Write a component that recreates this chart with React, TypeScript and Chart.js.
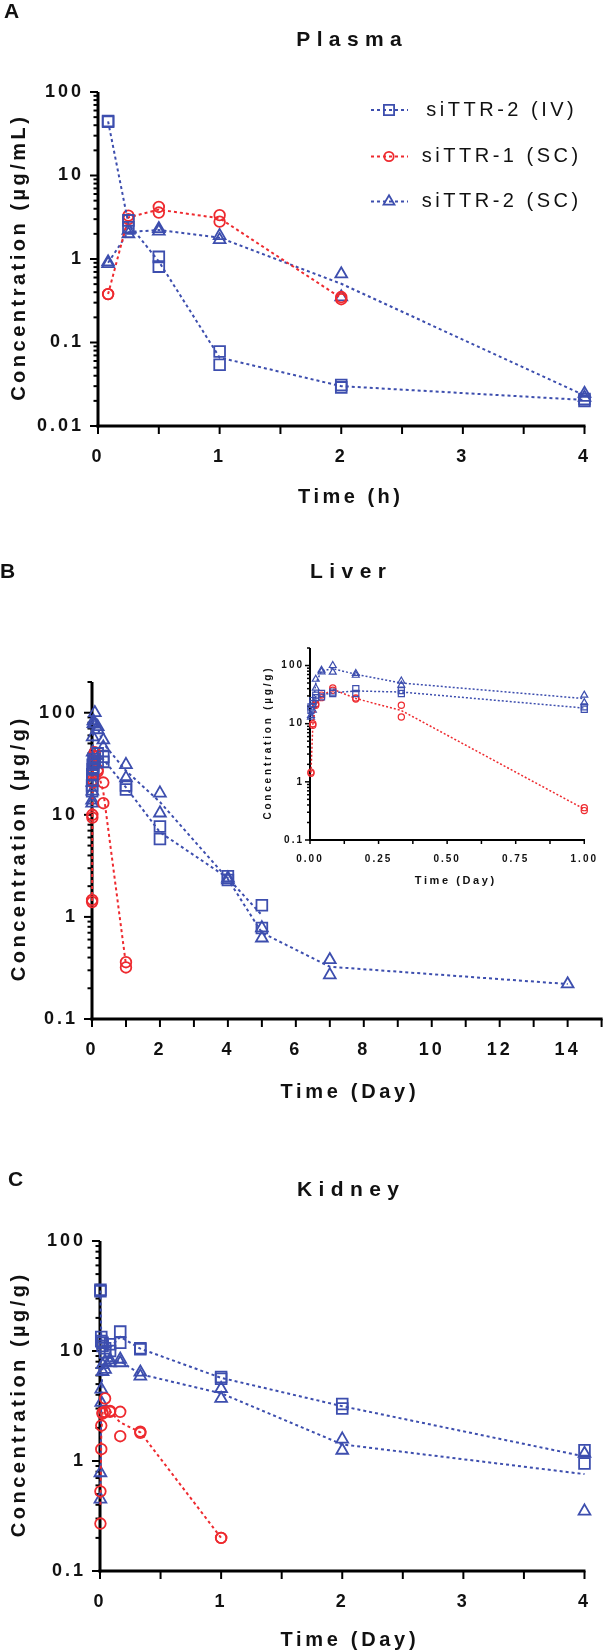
import React, { useEffect, useRef } from 'react';
import { Chart, registerables } from 'chart.js';

Chart.register(...registerables);

// ---------------- data ----------------
const seriesNames = ['siTTR-2 (IV)', 'siTTR-1 (SC)', 'siTTR-2 (SC)'];

// Panel A – Plasma (time in hours), two replicates per time point
const plasmaTimes = [0.083, 0.25, 0.5, 1, 2, 4];
const plasmaIV_1 = [45, 2.9, 1.06, 0.078, 0.031, 0.021];
const plasmaIV_2 = [44, 2.4, 0.81, 0.054, 0.029, 0.02];
const plasmaSC1_1 = [0.38, 3.3, 4.2, 3.35, 0.35, null];
const plasmaSC1_2 = [0.38, 3.0, 3.6, 2.8, 0.33, null];
const plasmaSC2_1 = [0.92, 2.2, 2.3, 1.9, 0.66, 0.0245];
const plasmaSC2_2 = [0.88, 2.0, 2.15, 1.7, 0.35, 0.022];

// Panel B – Liver (time in days)
const liverTimes = [0.0035, 0.0104, 0.021, 0.042, 0.083, 0.167, 0.333, 1, 2, 4, 5, 7, 14];
const liverIV_1 = [19.4, 25, 31, 33, 35, 40, 37, 19.4, 7.7, 2.5, 1.3, null, null];
const liverIV_2 = [17, 22, 28, 29, 33, 33, 33, 17.7, 5.8, 2.3, 0.78, null, null];
const liverSC1_1 = [1.47, 10, 22, 31, 41, 27.7, 20.7, 0.36, null, null, null, null, null];
const liverSC1_2 = [1.4, 9.4, 20.7, 28, 37.6, 26.5, 13, 0.32, null, null, null, null, null];
const liverSC2_1 = [13.9, 20.7, 58, 83, 100, 73, 54, 31, 16.3, 2.4, 0.78, 0.38, 0.22];
const liverSC2_2 = [13, 17, 41, 78, 77, 68, 46, 23, 10.4, 2.3, 0.62, 0.27, null];

// Panel C – Kidney (time in days)
const kidneyTimes = [0.0035, 0.0104, 0.021, 0.042, 0.083, 0.167, 0.333, 1, 2, 4];
const kidneyIV_1 = [36, 13.4, 11.9, 10.6, 11.5, 15, 10.6, 5.8, 3.3, 1.25];
const kidneyIV_2 = [35, 12.3, 11.1, 9.7, 10, 11.9, 10.4, 5.6, 3.0, 0.95];
const kidneySC1_1 = [0.53, 2.1, 2.75, 3.7, 2.85, 2.8, 1.85, 0.2, null, null];
const kidneySC1_2 = [0.27, 1.28, 2.7, 2.8, 2.8, 1.68, 1.8, 0.2, null, null];
const kidneySC2_1 = [0.78, 4.5, 7.5, 8.0, 8.3, 8.4, 6.4, 4.55, 1.58, 1.17];
const kidneySC2_2 = [0.45, 3.4, 6.5, 6.8, 7.8, 7.8, 5.9, 3.7, 1.25, 0.35];

// tick labels
const plasmaXTicks = [0, 1, 2, 3, 4];
const liverXTicks = [0, 2, 4, 6, 8, 10, 12, 14];
const insetXTicks = [0, 0.25, 0.5, 0.75, 1];
const kidneyXTicks = [0, 1, 2, 3, 4];
const plasmaYTicks = [0.01, 0.1, 1, 10, 100];
const tissueYTicks = [0.1, 1, 10, 100];

// ---------------- styles ----------------
const BLUE = '#3D4EAE';
const RED = '#EE2A2F';
const FONT = "'Liberation Sans', Arial, Helvetica, sans-serif";
const SHAPES = ['rect', 'circle', 'triangle'];
const COLORS = [BLUE, RED, BLUE];

type Rep = (number | null)[];

function pts(times: number[], vals: Rep, maxX: number) {
  const out: { x: number; y: number }[] = [];
  times.forEach((t, i) => {
    const v = vals[i];
    if (v != null && t <= maxX) out.push({ x: t, y: v });
  });
  return out;
}

function meanPts(times: number[], a: Rep, b: Rep, maxX: number) {
  const out: { x: number; y: number }[] = [];
  times.forEach((t, i) => {
    const vs = [a[i], b[i]].filter((v) => v != null) as number[];
    if (vs.length && t <= maxX) out.push({ x: t, y: vs.reduce((s, v) => s + v, 0) / vs.length });
  });
  return out;
}

function drawText(ctx: any, t: any) {
  ctx.save();
  ctx.font = `${t.weight || 'bold'} ${t.size}px ${FONT}`;
  ctx.letterSpacing = `${t.spacing || 0}px`;
  ctx.fillStyle = '#111';
  ctx.textAlign = t.align || 'center';
  ctx.textBaseline = 'middle';
  ctx.translate(t.x, t.y);
  if (t.rotate) ctx.rotate(-Math.PI / 2);
  const dx = (t.align || 'center') === 'center' ? (t.spacing || 0) / 2 : 0;
  ctx.fillText(t.str, dx, 0);
  ctx.restore();
}

function drawMarker(ctx: any, shape: string, x: number, y: number, r: number) {
  ctx.beginPath();
  if (shape === 'rect') {
    const s = r * Math.SQRT1_2;
    ctx.rect(x - s, y - s, 2 * s, 2 * s);
  } else if (shape === 'circle') {
    ctx.arc(x, y, r, 0, Math.PI * 2);
  } else {
    const w = r * Math.sin(Math.PI * 2 / 3);
    ctx.moveTo(x, y - r);
    ctx.lineTo(x + w, y + r / 2);
    ctx.lineTo(x - w, y + r / 2);
    ctx.closePath();
  }
  ctx.stroke();
}

function makeConfig(spec: any) {
  const ds: any[] = [];
  spec.reps.forEach(([a, b]: [Rep, Rep], i: number) => {
    ds.push({
      label: seriesNames[i],
      data: meanPts(spec.times, a, b, spec.xMax),
      showLine: true,
      pointRadius: 0,
      borderColor: COLORS[i],
      borderWidth: spec.lineW,
      borderDash: spec.dash,
      fill: false,
      tension: 0,
      clip: false,
    });
    ds.push({
      label: seriesNames[i],
      data: [...pts(spec.times, a, spec.xMax), ...pts(spec.times, b, spec.xMax)],
      showLine: false,
      pointStyle: SHAPES[i],
      pointRadius: spec.radii[i],
      pointBorderWidth: spec.markerW,
      pointBorderColor: COLORS[i],
      pointBackgroundColor: 'rgba(0,0,0,0)',
      borderColor: COLORS[i],
      backgroundColor: 'rgba(0,0,0,0)',
      clip: false,
    });
  });

  const tickFont = { family: FONT, size: spec.tickSize, weight: 'bold' as const };

  const deco = {
    id: 'deco',
    beforeUpdate(chart: any) {
      chart.ctx.letterSpacing = `${spec.tickSpacing}px`;
    },
    beforeDraw(chart: any) {
      chart.ctx.letterSpacing = `${spec.tickSpacing}px`;
    },
    beforeDatasetsDraw(chart: any) {
      const ctx = chart.ctx;
      const xs = chart.scales.x;
      const ys = chart.scales.y;
      const { left, right, top, bottom } = chart.chartArea;
      ctx.save();
      ctx.strokeStyle = '#000';
      ctx.lineCap = 'butt';
      ctx.lineWidth = spec.axisW;
      ctx.beginPath();
      ctx.moveTo(left, top);
      ctx.lineTo(left, bottom + spec.axisW / 2);
      ctx.stroke();
      ctx.beginPath();
      ctx.moveTo(left - spec.axisW / 2, bottom);
      ctx.lineTo(right + spec.tickW / 2, bottom);
      ctx.stroke();
      ctx.lineWidth = spec.tickW;
      const n = Math.round((spec.xMax - spec.xMin) / spec.xMinor);
      for (let k = 0; k <= n; k++) {
        const v = spec.xMin + k * spec.xMinor;
        const px = xs.getPixelForValue(v);
        ctx.beginPath();
        ctx.moveTo(px, bottom);
        ctx.lineTo(px, bottom + spec.xTickLen);
        ctx.stroke();
      }
      const d0 = Math.floor(Math.log10(spec.yMin) + 1e-9);
      const d1 = Math.ceil(Math.log10(spec.yMax) - 1e-9);
      for (let d = d0; d <= d1; d++) {
        for (let m = 1; m <= 9; m++) {
          const v = m * Math.pow(10, d);
          if (v < spec.yMin * 0.999 || v > spec.yMax * 1.001) continue;
          const py = ys.getPixelForValue(v);
          const len = m === 1 ? spec.yMajLen : spec.yMinLen;
          ctx.beginPath();
          ctx.moveTo(left, py);
          ctx.lineTo(left - len, py);
          ctx.stroke();
        }
      }
      ctx.restore();
    },
    afterDraw(chart: any) {
      const ctx = chart.ctx;
      spec.texts.forEach((t: any) => drawText(ctx, t));
      if (spec.legend) {
        const L = spec.legend;
        L.rows.forEach((y: number, i: number) => {
          ctx.save();
          ctx.strokeStyle = COLORS[i];
          ctx.lineWidth = spec.lineW;
          ctx.setLineDash(spec.dash);
          ctx.beginPath();
          ctx.moveTo(L.x1, y);
          ctx.lineTo(L.x2, y);
          ctx.stroke();
          ctx.setLineDash([]);
          ctx.lineWidth = spec.markerW;
          drawMarker(ctx, SHAPES[i], L.mx, y, L.radii[i]);
          ctx.restore();
          drawText(ctx, { str: seriesNames[i], x: L.tx, y, size: L.size, weight: 'normal', spacing: L.spacing });
        });
      }
    },
  };

  return {
    type: 'scatter' as const,
    data: { datasets: ds },
    options: {
      responsive: false,
      animation: false as const,
      devicePixelRatio: 1,
      events: [],
      layout: { padding: { left: 0, top: spec.top, right: spec.w - spec.right, bottom: 0 } },
      plugins: { legend: { display: false }, title: { display: false }, tooltip: { enabled: false } },
      scales: {
        x: {
          type: 'linear' as const,
          min: spec.xMin,
          max: spec.xMax,
          afterBuildTicks: (s: any) => {
            s.ticks = spec.xTicks.map((v: number) => ({ value: v }));
          },
          afterFit: (s: any) => {
            s.height = spec.h - spec.bottom;
          },
          ticks: {
            autoSkip: false,
            maxRotation: 0,
            minRotation: 0,
            padding: spec.xPad,
            color: '#111',
            font: tickFont,
            callback: (v: any) => Number(v).toFixed(spec.xDecimals),
          },
          grid: { display: false, drawTicks: false, tickLength: 0 },
          border: { display: false },
        },
        y: {
          type: 'logarithmic' as const,
          min: spec.yMin,
          max: spec.yMax,
          afterBuildTicks: (s: any) => {
            s.ticks = spec.yTicks.map((v: number) => ({ value: v }));
          },
          afterFit: (s: any) => {
            s.width = spec.left;
          },
          ticks: {
            autoSkip: false,
            padding: spec.yPad,
            color: '#111',
            font: tickFont,
            callback: (v: any) => String(Number(v)),
          },
          grid: { display: false, drawTicks: false, tickLength: 0 },
          border: { display: false },
        },
      },
    },
    plugins: [deco],
  };
}

const mainStyle = {
  tickSize: 18,
  tickSpacing: 3,
  xPad: 20,
  yPad: 14,
  axisW: 3,
  tickW: 2,
  xTickLen: 8,
  yMajLen: 8,
  yMinLen: 4.5,
  radii: [7.6, 5.3, 6.8],
  markerW: 1.8,
  lineW: 2,
  dash: [3, 3],
};

const specA = {
  ...mainStyle,
  w: 611, h: 520,
  left: 98, right: 600, top: 92, bottom: 426,
  xMin: 0, xMax: 4, xTicks: plasmaXTicks, xDecimals: 0, xMinor: 0.5,
  yMin: 0.01, yMax: 100, yTicks: plasmaYTicks,
  times: plasmaTimes,
  reps: [[plasmaIV_1, plasmaIV_2], [plasmaSC1_1, plasmaSC1_2], [plasmaSC2_1, plasmaSC2_2]],
  texts: [
    { str: 'A', x: 4, y: 12, size: 21, align: 'left', spacing: 0 },
    { str: 'Plasma', x: 349, y: 40, size: 21, spacing: 6.4 },
    { str: 'Time (h)', x: 349, y: 497, size: 20, spacing: 3.5 },
    { str: 'Concentration (µg/mL)', x: 19, y: 259, size: 20, spacing: 3.5, rotate: true },
  ],
  legend: { rows: [110, 156.5, 201.5], x1: 371, x2: 408, mx: 389, tx: 500, radii: [7.2, 4.7, 6.3], size: 20, spacing: 3.5 },
};

const specB = {
  ...mainStyle,
  w: 611, h: 590,
  left: 92, right: 603, top: 162, bottom: 499,
  xMin: 0, xMax: 15, xTicks: liverXTicks, xDecimals: 0, xMinor: 1,
  yMin: 0.1, yMax: 200, yTicks: tissueYTicks,
  times: liverTimes,
  reps: [[liverIV_1, liverIV_2], [liverSC1_1, liverSC1_2], [liverSC2_1, liverSC2_2]],
  texts: [
    { str: 'B', x: 0, y: 52, size: 21, align: 'left', spacing: 0 },
    { str: 'Liver', x: 348, y: 52, size: 21, spacing: 6.4 },
    { str: 'Time (Day)', x: 348, y: 572, size: 20, spacing: 3.7 },
    { str: 'Concentration (µg/g)', x: 19, y: 330, size: 20, spacing: 3.5, rotate: true },
  ],
};

const specInset = {
  tickSize: 10,
  tickSpacing: 2,
  xPad: 13,
  yPad: 6,
  axisW: 2,
  tickW: 1.5,
  xTickLen: 4,
  yMajLen: 5,
  yMinLen: 3,
  radii: [4.3, 3.1, 4.0],
  markerW: 1.2,
  lineW: 1.5,
  dash: [2, 2],
  w: 361, h: 270,
  left: 60, right: 349, top: 18, bottom: 210,
  xMin: 0, xMax: 1, xTicks: insetXTicks, xDecimals: 2, xMinor: 0.125,
  yMin: 0.1, yMax: 200, yTicks: tissueYTicks,
  times: liverTimes,
  reps: [[liverIV_1, liverIV_2], [liverSC1_1, liverSC1_2], [liverSC2_1, liverSC2_2]],
  texts: [
    { str: 'Time (Day)', x: 204.5, y: 251, size: 11, spacing: 2.6 },
    { str: 'Concentration (µg/g)', x: 18, y: 114, size: 10, spacing: 2.8, rotate: true },
  ],
};

const specC = {
  ...mainStyle,
  w: 611, h: 552,
  left: 100, right: 598, top: 141, bottom: 471,
  xMin: 0, xMax: 4, xTicks: kidneyXTicks, xDecimals: 0, xMinor: 0.5,
  yMin: 0.1, yMax: 100, yTicks: tissueYTicks,
  times: kidneyTimes,
  reps: [[kidneyIV_1, kidneyIV_2], [kidneySC1_1, kidneySC1_2], [kidneySC2_1, kidneySC2_2]],
  texts: [
    { str: 'C', x: 8, y: 80.5, size: 21, align: 'left', spacing: 0 },
    { str: 'Kidney', x: 348, y: 90.7, size: 21, spacing: 6.4 },
    { str: 'Time (Day)', x: 348, y: 540, size: 20, spacing: 3.7 },
    { str: 'Concentration (µg/g)', x: 19, y: 306, size: 20, spacing: 3.5, rotate: true },
  ],
};

const panels = [
  { spec: specA, left: 0, top: 0 },
  { spec: specB, left: 0, top: 520 },
  { spec: specInset, left: 250, top: 630 },
  { spec: specC, left: 0, top: 1100 },
];

export default function App() {
  const refs = [useRef<HTMLCanvasElement>(null), useRef<HTMLCanvasElement>(null), useRef<HTMLCanvasElement>(null), useRef<HTMLCanvasElement>(null)];

  useEffect(() => {
    const charts = panels.map((p, i) => new Chart(refs[i].current as HTMLCanvasElement, makeConfig(p.spec) as any));
    return () => charts.forEach((c) => c.destroy());
  }, []);

  return (
    <div style={{ position: 'absolute', left: 0, top: 0, width: 611, height: 1652, background: '#fff' }}>
      {panels.map((p, i) => (
        <canvas
          key={i}
          ref={refs[i]}
          width={p.spec.w}
          height={p.spec.h}
          style={{ position: 'absolute', left: p.left, top: p.top, width: p.spec.w, height: p.spec.h, zIndex: i === 2 ? 2 : 1 }}
        />
      ))}
    </div>
  );
}
